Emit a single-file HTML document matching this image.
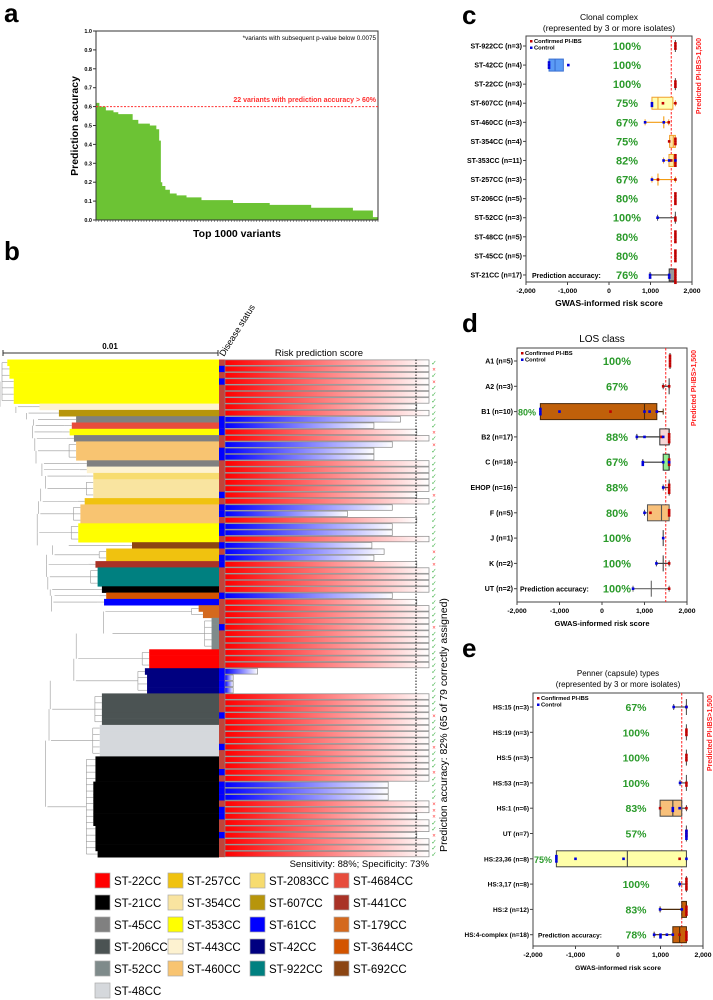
<!DOCTYPE html>
<html><head><meta charset="utf-8">
<style>
html,body{margin:0;padding:0;background:#fff;}
svg{display:block;font-family:"Liberation Sans",Arial,sans-serif;}
.b{font-weight:bold;}
</style></head>
<body>
<svg id="fig" width="713" height="1000" viewBox="0 0 713 1000" xmlns="http://www.w3.org/2000/svg">
<defs>
<linearGradient id="gr" x1="0" x2="1" y1="0" y2="0"><stop offset="0" stop-color="#ff0000"/><stop offset="1" stop-color="#ffffff"/></linearGradient>
<linearGradient id="gb" x1="0" x2="1" y1="0" y2="0"><stop offset="0" stop-color="#0000ff"/><stop offset="1" stop-color="#ffffff"/></linearGradient>
</defs>
<!-- Panel a static -->
<g>
<text x="4" y="22" font-size="26" class="b">a</text>
<text transform="translate(78,126) rotate(-90)" text-anchor="middle" font-size="10.5" class="b">Prediction accuracy</text>
<text x="237" y="237" text-anchor="middle" font-size="10.5" class="b">Top 1000 variants</text>
<text x="376" y="40" text-anchor="end" font-size="6.3">*variants with subsequent p-value below 0.0075</text>
<text x="376" y="102" text-anchor="end" font-size="7" class="b" fill="#ff3030">22 variants with prediction accuracy &gt; 60%</text>
<g id="pa"></g>
</g>
<!-- Panel b static -->
<g>
<text x="4" y="260" font-size="26" class="b">b</text>
<line x1="3" y1="353" x2="218" y2="353" stroke="#333" stroke-width="1"/>
<line x1="3" y1="350" x2="3" y2="356" stroke="#333"/><line x1="218" y1="350" x2="218" y2="356" stroke="#333"/>
<text x="110" y="349" text-anchor="middle" font-size="8" class="b">0.01</text>
<text transform="translate(224,357) rotate(-58)" font-size="9">Disease status</text>
<text x="319" y="356" text-anchor="middle" font-size="9.5">Risk prediction score</text>
<text transform="translate(447,725) rotate(-90)" text-anchor="middle" font-size="10.5">Prediction accuracy: 82% (65 of 79 correctly assigned)</text>
<text x="429" y="867" text-anchor="end" font-size="9.5">Sensitivity: 88%; Specificity: 73%</text>
<g id="pb"></g>
<g id="legend"></g>
</g>
<g id="pc"></g>
<g id="pd"></g>
<g id="pe"></g>
</svg>
<script>
// ---------- Panel a data ----------
const aRanks  = [0,12,35,62,79,130,150,191,214,224,230,235,246,262,286,321,374,486,616,763,911,982,1000];
const aValues = [0.62,0.60,0.58,0.57,0.56,0.53,0.51,0.50,0.48,0.42,0.20,0.18,0.16,0.14,0.13,0.12,0.105,0.09,0.08,0.065,0.05,0.015,0.015];
const aTicks  = [0,0.1,0.2,0.3,0.4,0.5,0.6,0.7,0.8,0.9,1.0];

// ---------- Panel b data ----------
const bCluster = ['353','353','353','353','353','353','353','443','607','45','4684','353','45','460','460','460','45','443','2083','354','354','354','257','460','460','460','353','353','353','692','257','257','441','922','922','922','21','3644','61','179','179','52','52','52','52','52','22','22','22','42','42','42','42','206','206','206','206','206','48','48','48','48','48','21','21','21','21','21','21','21','21','21','21','21','21','21','21','21','21'];
const bDist = [2,3,3,5,5,5,5,17,26,34,32,31,33,34,34,34,39,39,42,42,42,42,38,36,36,36,35,35,35,60,48,48,43,44,44,44,46,48,47,91,93,97,97,97,97,97,68,68,68,66,67,67,67,46,46,46,46,46,45,45,45,45,45,43,43,43,43,42,42,42,42,42,42,42,43,43,43,43,44];
const bStatus = ['P','C','P','C','P','P','P','P','P','C','C','C','P','P','C','C','P','P','P','P','P','C','P','C','C','P','C','C','P','C','P','C','C','P','P','P','P','C','P','P','P','P','C','P','P','P','P','P','P','C','C','C','C','P','P','P','C','P','P','P','P','C','P','P','P','C','P','C','C','C','P','C','C','P','P','C','P','P','P'];
const bPred   = ['P','P','P','P','P','P','P','P','P','C','C','P','P','C','C','C','P','P','P','P','P','P','P','C','C','P','C','C','P','C','C','C','P','P','P','P','P','C','P','P','P','P','P','P','P','P','P','P','P','C','C','C','C','P','P','P','P','P','P','P','P','P','P','P','P','P','P','C','C','C','P','P','P','P','P','P','P','P','P'];
const bLen    = [1,1,1,1,1,1,1,0.94,1,0.86,0.73,0.94,1,0.82,0.73,0.73,1,1,1,1,1,0.94,1,0.82,0.6,0.94,0.82,0.82,1,0.72,0.78,0.73,0.94,1,1,1,1,0.82,0.94,1,1,1,1,1,1,1,1,1,1,0.16,0.04,0.04,0.04,1,1,1,1,1,1,1,1,1,1,1,1,1,1,0.8,0.8,0.8,1,1,0.94,1,1,0.94,1,1,1];
const bCorrect= [1,0,1,0,1,1,1,1,1,1,1,0,1,0,1,1,1,1,1,1,1,0,1,1,1,1,1,1,1,1,0,1,0,1,1,1,1,1,1,1,1,1,0,1,1,1,1,1,1,1,1,1,1,1,1,1,0,1,1,1,1,0,1,1,1,0,1,1,1,1,0,0,0,1,1,0,1,1,1];
const legendNames = ['ST-22CC','ST-21CC','ST-45CC','ST-206CC','ST-52CC','ST-48CC','ST-257CC','ST-354CC','ST-353CC','ST-443CC','ST-460CC','ST-2083CC','ST-607CC','ST-61CC','ST-42CC','ST-922CC','ST-4684CC','ST-441CC','ST-179CC','ST-3644CC','ST-692CC'];
const ccColor = {'22':'#ff0000','21':'#000000','45':'#808080','206':'#4b5353','52':'#7f8b8b','48':'#d5d8dc','257':'#f0c20f','354':'#f9e4a0','353':'#ffff00','443':'#fdf2d0','460':'#f8c471','2083':'#f7dc6f','607':'#b7950b','61':'#0000ff','42':'#000080','922':'#008080','4684':'#e74c3c','441':'#a93226','179':'#d4691e','3644':'#d35400','692':'#8b4513'};

// ---------- Panel c data ----------
const cCats = ['ST-922CC (n=3)','ST-42CC (n=4)','ST-22CC (n=3)','ST-607CC (n=4)','ST-460CC (n=3)','ST-354CC (n=4)','ST-353CC (n=11)','ST-257CC (n=3)','ST-206CC (n=5)','ST-52CC (n=3)','ST-48CC (n=5)','ST-45CC (n=5)','ST-21CC (n=17)'];
const cPct  = ['100%','100%','100%','75%','67%','75%','82%','67%','80%','100%','80%','80%','76%'];
const cStats = [[1600,1600,1600,1600,1600],[-980,-1445,-1300,-1100,-980],[1600,1600,1600,1600,1600],[1035,1035,1180,1540,1600],[870,870,1320,1440,1440],[1460,1460,1550,1600,1600],[1315,1445,1560,1600,1600],[1035,1035,1180,1600,1600],[1600,1600,1600,1600,1600],[1170,1170,1600,1600,1600],[1600,1600,1600,1600,1600],[1600,1600,1600,1600,1600],[990,1450,1600,1600,1600]];
const cRed  = [[1600,1600,1600],[],[1600,1600,1600],[1300,1600],[1440],[1450,1600,1600,1600],[1600,1600,1600,1600,1600,1500],[1180,1600],[1600,1600,1600,1600,1600],[1600,1600],[1600,1600,1600,1600,1600],[1600,1600,1600,1600,1600],[1600,1600,1600,1600,1600,1600]];
const cBlue = [[],[-1445,-1445,-1445,-980],[],[1035,1035],[870,1320],[],[1315,1450,1600],[1035],[],[1170],[],[],[990,990,1450,1450]];
const cFill = ['none','#5b9bf5','none','#ffffb0','none','#fde2a8','#ffeea0','none','none','none','none','none','#9a9a9a'];
const cStroke = ['#555','#3a6fd0','#555','#f0a030','#f39c12','#f0a030','#f0a030','#f39c12','#555','#555','#555','#555','#333'];

// ---------- Panel d data ----------
const dCats = ['A1 (n=5)','A2 (n=3)','B1 (n=10)','B2 (n=17)','C (n=18)','EHOP (n=16)','F (n=5)','J (n=1)','K (n=2)','UT (n=2)'];
const dPct  = ['100%','67%','80%','88%','67%','88%','80%','100%','100%','100%'];
const dStats = [[1600,1600,1600,1600,1600],[1440,1440,1580,1580,1580],[-1450,-1450,1000,1290,1440],[820,1360,1580,1580,1580],[960,1440,1580,1580,1580],[1440,1580,1580,1580,1580],[1000,1070,1400,1580,1580],[1440,1440,1440,1440,1440],[1280,1280,1440,1580,1580],[730,730,1160,1580,1580]];
const dRed  = [[1600,1600,1600,1600,1600],[1440,1580],[200,1290],[1400,1580,1580,1580,1580],[1580,1580,1580],[1580,1580,1580,1580],[1140,1580,1580,1580],[],[1580],[1580]];
const dBlue = [[],[],[-1450,-1450,-1450,-1000,1000,1120,1290],[820,1000,1440],[960,960,1440,1580],[1440],[1000],[1440],[1280],[730]];
const dFill = ['none','none','#c0600a','#f6d6d6','#90ee90','none','#f8c07a','none','none','none'];
const dStroke = ['#444','#444','#4a2a0a','#333','#333','#444','#555','#444','#444','#666'];

// ---------- Panel e data ----------
const eCats = ['HS:15 (n=3)','HS:19 (n=3)','HS:5 (n=3)','HS:53 (n=3)','HS:1 (n=6)','UT (n=7)','HS:23,36 (n=8)','HS:3,17 (n=8)','HS:2 (n=12)','HS:4-complex (n=18)'];
const ePct  = ['67%','100%','100%','100%','83%','57%','75%','100%','83%','78%'];
const eStats = [[1310,1310,1610,1610,1610],[1610,1610,1610,1610,1610],[1610,1610,1610,1610,1610],[1460,1460,1610,1610,1610],[990,990,1290,1500,1610],[1610,1610,1610,1610,1610],[-1450,-1450,220,1610,1610],[1450,1450,1610,1610,1610],[990,1500,1610,1610,1610],[850,1290,1450,1610,1610]];
const eRed  = [[1610],[1610,1610,1610],[1610,1610,1610],[1610,1610],[990,1610],[1610,1610,1610],[1450],[1610,1610,1610,1610,1610],[1610,1610,1610,1610],[1610,1610,1610,1610,1450]];
const eBlue = [[1310,1610],[],[],[1460],[1290,1290,1450],[1610,1610,1610,1610],[-1450,-1450,-1450,-1000,130,1610],[1450],[990,1500],[850,1000,1000,1150,1290]];
const eFill = ['none','none','none','none','#f8c07a','none','#ffffa8','none','#c8600a','#c8600a'];
const eStroke = ['#555','#555','#555','#555','#444','#555','#444','#555','#4a2a0a','#4a2a0a'];

const NS='http://www.w3.org/2000/svg';
function mk(parent,tag,attrs,text){const e=document.createElementNS(NS,tag);for(const k in attrs)e.setAttribute(k,attrs[k]);if(text!==undefined)e.textContent=text;parent.appendChild(e);return e;}

// ===== Panel a =====
(function(){
  const g=document.getElementById('pa');
  const X0=96,X1=378,Y0=220,Y1=31;
  const xs=r=>X0+r/1000*(X1-X0), ys=v=>Y0-v*(Y0-Y1);
  let d='M'+xs(0)+','+ys(0);
  for(let i=0;i<aRanks.length-1;i++){d+=' L'+xs(aRanks[i])+','+ys(aValues[i])+' L'+xs(aRanks[i+1])+','+ys(aValues[i]);}
  d+=' L'+xs(1000)+','+ys(0)+' Z';
  const area=mk(g,'path',{d:d,fill:'#6cc334'});
  
  
  mk(g,'rect',{x:X0,y:Y1,width:X1-X0,height:Y0-Y1,fill:'none',stroke:'#333','stroke-width':1});
  const th=mk(g,'line',{x1:X0,x2:X1,y1:ys(0.6),y2:ys(0.6),stroke:'#ff3030','stroke-dasharray':'2,1.5','stroke-width':1});
  
  
  aTicks.forEach(t=>{
    mk(g,'line',{x1:X0-3,x2:X0,y1:ys(t),y2:ys(t),stroke:'#333'});
    const tl=mk(g,'text',{x:X0-4,y:ys(t)+2,'text-anchor':'end','font-size':5.5,'font-weight':'bold'},t.toFixed(1));
    
    
  });
  for(let i=0;i<=100;i++){mk(g,'line',{x1:xs(i*10),x2:xs(i*10),y1:Y0,y2:Y0+2,stroke:'#333','stroke-width':0.5});}
})();

// ===== Panel b =====
(function(){
  const g=document.getElementById('pb');
  const top=359.5, step=6.3, BX=225, BW=204, EDGE=219;
  const leafX=i=>3+bDist[i]*2.15;
  // tree: group rows by consecutive cluster
  const groups=[];
  bCluster.forEach((c,i)=>{ if(!groups.length||groups[groups.length-1].c!==c) groups.push({c:c,s:i,e:i}); else groups[groups.length-1].e=i; });
  groups.forEach((gr,gi)=>{
    let minX=1e9; for(let i=gr.s;i<=gr.e;i++) minX=Math.min(minX,leafX(i));
    const px=Math.max(2,minX-7);
    for(let i=gr.s;i<=gr.e;i++){ const y=top+(i+0.5)*step; mk(g,'line',{x1:px,x2:leafX(i),y1:y,y2:y,stroke:'#999','stroke-width':0.6}); }
    mk(g,'line',{x1:px,x2:px,y1:top+(gr.s+0.5)*step,y2:top+(gr.e+0.5)*step,stroke:'#999','stroke-width':0.6});
    const my=top+((gr.s+gr.e)/2+0.5)*step;
    const bx=Math.max(2,px*0.55);
    mk(g,'line',{x1:bx,x2:px,y1:my,y2:my,stroke:'#999','stroke-width':0.6});
    gr.bx=bx; gr.my=my;
  });
  for(let k=0;k<groups.length-1;k++){
    const a=groups[k],b=groups[k+1]; const x=Math.min(a.bx,b.bx)-2;
    mk(g,'line',{x1:x,x2:x,y1:a.my,y2:b.my,stroke:'#999','stroke-width':0.6});
  }
  // cluster blocks
  bCluster.forEach((c,i)=>{
    const r=mk(g,'rect',{x:leafX(i),y:top+i*step,width:EDGE-leafX(i),height:step+0.3,fill:ccColor[c]});
    
    
  });
  // status column
  mk(g,'rect',{x:EDGE,y:top,width:6,height:bCluster.length*step,fill:'#c0443a'});
  bStatus.forEach((s,i)=>{ if(s==='C'){ const r=mk(g,'rect',{x:EDGE,y:top+i*step,width:6,height:step,fill:'#0000ff'});
    
     } });
  // bars
  bLen.forEach((l,i)=>{
    const r=mk(g,'rect',{x:BX,y:top+i*step+0.4,width:l*BW,height:step-0.8,fill:bPred[i]==='P'?'url(#gr)':'url(#gb)',stroke:'#888','stroke-width':0.7});
    
    
    const m=mk(g,'text',{x:434,y:top+i*step+5.5,'text-anchor':'middle','font-size':bCorrect[i]?6.5:6,fill:bCorrect[i]?'#3cb043':'#ff3030'},bCorrect[i]?'✓':'×');
    
    
  });
  mk(g,'line',{x1:416,x2:416,y1:top,y2:top+bCluster.length*step,stroke:'#000','stroke-dasharray':'1.5,1.5','stroke-width':0.9});
  // legend
  const lg=document.getElementById('legend');
  const colX=[95,168,250,334];
  legendNames.forEach((n,i)=>{
    const col=Math.floor(i/6)>=3?3:Math.floor(i<6?0:(i<11?1:(i<16?2:3)));
    const row=i<6?i:(i<11?i-6:(i<16?i-11:i-16));
    const key=n.replace('ST-','').replace('CC','');
    const x=colX[col], y=873+row*22;
    const sw=mk(lg,'rect',{x:x,y:y,width:15,height:15,fill:ccColor[key],stroke:'#aaa','stroke-width':0.7});
    
    
    const t=mk(lg,'text',{x:x+19,y:y+12,'font-size':11.5},n);
    
    
  });
})();

// ===== Box panels =====
function boxPanel(gid,o){
  const g=document.getElementById(gid);
  const xs=v=>o.x0+(v+2000)/4000*(o.x1-o.x0);
  mk(g,'text',{x:o.lx,y:o.ly,'font-size':26,'font-weight':'bold'},o.letter);
  o.title.forEach((t,k)=>{ const tt=mk(g,'text',{x:(o.x0+o.x1)/2,y:o.ty+k*11,'text-anchor':'middle','font-size':o.tfs},t);
    
     });
  mk(g,'rect',{x:o.x0,y:o.yt,width:o.x1-o.x0,height:o.yb-o.yt,fill:'none',stroke:'#444','stroke-width':1});
  const dl=mk(g,'line',{x1:xs(1500),x2:xs(1500),y1:o.yt,y2:o.yb,stroke:'#ff2020','stroke-dasharray':'2.5,1.5','stroke-width':1});
  
  
  const vt=mk(g,'text',{transform:'translate('+(o.x1+9)+','+(o.yt+2)+') rotate(-90)','text-anchor':'end','font-size':7,'font-weight':'bold',fill:'#ff2020'},'Predicted PI-IBS>1,500');
  
  
  // legend
  mk(g,'rect',{x:o.x0+4,y:o.yt+4,width:2.5,height:2.5,fill:'#c00000'});
  mk(g,'text',{x:o.x0+8,y:o.yt+7,'font-size':5.8,'font-weight':'bold'},'Confirmed PI-IBS');
  mk(g,'rect',{x:o.x0+4,y:o.yt+10.5,width:2.5,height:2.5,fill:'#0000dd'});
  mk(g,'text',{x:o.x0+8,y:o.yt+13.5,'font-size':5.8,'font-weight':'bold'},'Control');
  [-2000,-1000,0,1000,2000].forEach(t=>{
    mk(g,'line',{x1:xs(t),x2:xs(t),y1:o.yb,y2:o.yb+3,stroke:'#444'});
    const tl=mk(g,'text',{x:xs(t),y:o.yb+11,'text-anchor':'middle','font-size':6.8,'font-weight':'bold'},t.toLocaleString('en-US'));
    
    
  });
  const xt=mk(g,'text',{x:(o.x0+o.x1)/2,y:o.yb+24,'text-anchor':'middle','font-size':o.xfs,'font-weight':'bold'},'GWAS-informed risk score');
  
  
  o.cats.forEach((c,i)=>{
    const y=o.r0+i*o.rs;
    mk(g,'line',{x1:o.x0-3,x2:o.x0,y1:y,y2:y,stroke:'#444'});
    const cl=mk(g,'text',{x:o.x0-4,y:y+2.5,'text-anchor':'end','font-size':o.cfs,'font-weight':'bold'},c);
    
    
    const s=o.stats[i];
    const col=o.stroke[i];
    if(s[0]!==s[4]){
      mk(g,'line',{x1:xs(s[0]),x2:xs(s[4]),y1:y,y2:y,stroke:col,'stroke-width':1.2});
      mk(g,'line',{x1:xs(s[0]),x2:xs(s[0]),y1:y-3,y2:y+3,stroke:col,'stroke-width':1});
      mk(g,'line',{x1:xs(s[4]),x2:xs(s[4]),y1:y-3,y2:y+3,stroke:col,'stroke-width':1});
    }
    if(s[1]!==s[3] && o.fill[i]!=='none'){
      const bx=mk(g,'rect',{x:xs(s[1]),y:y-o.bh/2,width:xs(s[3])-xs(s[1]),height:o.bh,fill:o.fill[i],stroke:col,'stroke-width':1});
      
      
    }
    mk(g,'line',{x1:xs(s[2]),x2:xs(s[2]),y1:y-o.bh/2,y2:y+o.bh/2,stroke:col,'stroke-width':1.1});
    const pts=(arr,color)=>{const cnt={};arr.forEach(v=>{cnt[v]=(cnt[v]||0);const k=cnt[v]++;const off=(k%2?1:-1)*Math.ceil(k/2)*2.6;
      const p=mk(g,'rect',{x:xs(v)-1.3,y:y+off-1.3,width:2.6,height:2.6,fill:color});
      
      });};
    pts(o.red[i],'#c00000'); pts(o.blue[i],'#0000dd');
    const last=i===o.cats.length-1;
    const left=o.leftPct.indexOf(i)>=0;
    if(last){ mk(g,'text',{x:o.pax,y:y+3,'font-size':o.cfs,'font-weight':'bold'},'Prediction accuracy:'); }
    const pt=mk(g,'text',{x:left?o.x0+1:o.px,y:y+4,'text-anchor':left?'start':'middle','font-size':left?9:o.pfs,'font-weight':'bold',fill:'#2a9a2a'},o.pct[i]);
    
    
  });
}
boxPanel('pc',{letter:'c',lx:462,ly:24,title:['Clonal complex','(represented by 3 or more isolates)'],ty:20,tfs:8.5,x0:526,x1:692,yt:36,yb:282,r0:46,rs:19.08,bh:12,cats:cCats,pct:cPct,stats:cStats,red:cRed,blue:cBlue,fill:cFill,stroke:cStroke,px:627,pfs:11,cfs:7,xfs:8.5,pax:532,leftPct:[]});
boxPanel('pd',{letter:'d',lx:462,ly:332,title:['LOS class'],ty:342,tfs:10,x0:517,x1:687,yt:348,yb:602,r0:361,rs:25.3,bh:16,cats:dCats,pct:dPct,stats:dStats,red:dRed,blue:dBlue,fill:dFill,stroke:dStroke,px:617,pfs:11,cfs:7,xfs:7.5,pax:520,leftPct:[2]});
boxPanel('pe',{letter:'e',lx:462,ly:657,title:['Penner (capsule) types','(represented by 3 or more isolates)'],ty:676,tfs:8,x0:533,x1:703,yt:693,yb:946,r0:707,rs:25.3,bh:16,cats:eCats,pct:ePct,stats:eStats,red:eRed,blue:eBlue,fill:eFill,stroke:eStroke,px:636,pfs:10.5,cfs:6.5,xfs:6.8,pax:538,leftPct:[6]});
</script>
</body></html>
